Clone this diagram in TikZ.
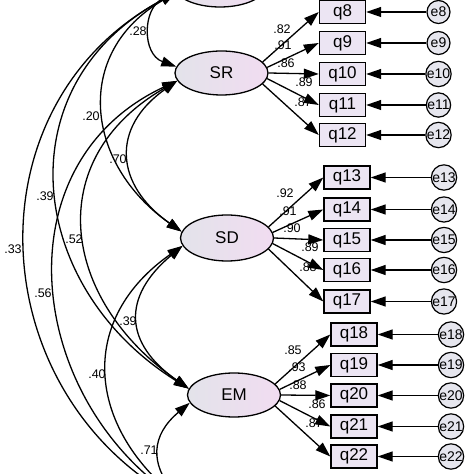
\documentclass[tikz,border=0pt]{standalone}
\usepackage{fontspec}
\setmainfont{Liberation Sans}
\usepackage{xcolor}
\usetikzlibrary{arrows.meta,shapes.geometric}
\definecolor{latgray}{HTML}{E3E3EA}
\definecolor{latpink}{HTML}{F1DCF1}
\definecolor{obsfill}{HTML}{ECE5F3}
\definecolor{errfill}{HTML}{E6E6EE}
\tikzset{
  lat/.style={draw, ellipse, line width=1.3pt, left color=latgray, right color=latpink,
    minimum width=93pt, minimum height=44pt, inner sep=0pt, font=\fontsize{17}{17}\selectfont},
  obs/.style={draw, rectangle, line width=1.4pt, fill=obsfill, minimum width=46pt,
    minimum height=23pt, inner sep=0pt, font=\fontsize{17}{17}\selectfont},
  err/.style={draw, circle, line width=1.2pt, fill=errfill, minimum size=23pt, inner sep=0pt,
    font=\fontsize{14}{14}\selectfont},
  wt/.style={inner sep=0pt, font=\fontsize{12.5}{13}\selectfont},
  load/.style={-{Triangle[length=15pt,width=10pt]}, line width=1.3pt},
  cov/.style={{Triangle[length=15pt,width=10pt]}-{Triangle[length=15pt,width=10pt]}, line width=1.3pt},
}

\begin{document}
\begin{tikzpicture}[x=1pt, y=1pt]
  \useasboundingbox (0,0) rectangle (474,474);
  \clip (0,0) rectangle (474,474);
  % factors
  \node[lat] (ftop) at (220,489) {};
  \node[lat] (sr) at (221.5,401) {SR};
  \node[lat, minimum height=46pt] (sd) at (227,236) {SD};
  \node[lat] (em) at (234,79) {EM};
  \node[lat] (fbot) at (226,-38) {};
  % items
  \node[obs] (q8) at (342.5,462) {q8};
  \node[obs] (q9) at (342.5,431) {q9};
  \node[obs] (q10) at (342.5,400) {q10};
  \node[obs] (q11) at (342.5,369) {q11};
  \node[obs] (q12) at (342.5,339) {q12};
  \node[obs] (q13) at (347,296.5) {q13};
  \node[obs] (q14) at (347,264.5) {q14};
  \node[obs] (q15) at (347,234) {q15};
  \node[obs] (q16) at (347,204) {q16};
  \node[obs] (q17) at (347,172.5) {q17};
  \node[obs] (q18) at (354,139.5) {q18};
  \node[obs] (q19) at (354,109) {q19};
  \node[obs] (q20) at (354,78.5) {q20};
  \node[obs] (q21) at (354,47.5) {q21};
  \node[obs] (q22) at (354,17.5) {q22};
  % errors
  \node[err] (e8) at (438.5,462) {e8};
  \node[err] (e9) at (438.5,431) {e9};
  \node[err] (e10) at (438.5,400) {e10};
  \node[err] (e11) at (438.5,369) {e11};
  \node[err] (e12) at (438.5,339) {e12};
  \node[err] (e13) at (444,296.5) {e13};
  \node[err] (e14) at (444,264.5) {e14};
  \node[err] (e15) at (444,234) {e15};
  \node[err] (e16) at (444,204) {e16};
  \node[err] (e17) at (444,172.5) {e17};
  \node[err] (e18) at (451,139.5) {e18};
  \node[err] (e19) at (451,109) {e19};
  \node[err] (e20) at (451,78.5) {e20};
  \node[err] (e21) at (451,47.5) {e21};
  \node[err] (e22) at (451,17.5) {e22};
  % loadings
  \node[wt] (w8) at (282,445) {.82};
  \node[wt] (w9) at (283,429) {.91};
  \node[wt] (w10) at (286,411) {.86};
  \node[wt] (w11) at (304,392) {.89};
  \node[wt] (w12) at (303,372) {.87};
  \node[wt] (w13) at (285,281) {.92};
  \node[wt] (w14) at (288,263) {.91};
  \node[wt] (w15) at (292,246) {.90};
  \node[wt] (w16) at (310,227) {.89};
  \node[wt] (w17) at (308,207) {.88};
  \node[wt] (w18) at (293,124) {.85};
  \node[wt] (w19) at (297,107) {.93};
  \node[wt] (w20) at (298,89) {.88};
  \node[wt] (w21) at (317,70) {.86};
  \node[wt] (w22) at (314,51) {.87};
  \draw[load] (sr.15) -- (q8.west);
  \draw[load] (sr.7) -- (q9.west);
  \draw[load] (sr.0) -- (q10.west);
  \draw[load] (sr.-7) -- (q11.west);
  \draw[load] (sr.-15) -- (q12.west);
  \draw[load] (sd.15) -- (q13.west);
  \draw[load] (sd.7) -- (q14.west);
  \draw[load] (sd.0) -- (q15.west);
  \draw[load] (sd.-7) -- (q16.west);
  \draw[load] (sd.-15) -- (q17.west);
  \draw[load] (em.15) -- (q18.west);
  \draw[load] (em.7) -- (q19.west);
  \draw[load] (em.0) -- (q20.west);
  \draw[load] (em.-7) -- (q21.west);
  \draw[load] (em.-15) -- (q22.west);
  \draw[load] (e8) -- (q8);
  \draw[load] (e9) -- (q9);
  \draw[load] (e10) -- (q10);
  \draw[load] (e11) -- (q11);
  \draw[load] (e12) -- (q12);
  \draw[load] (e13) -- (q13);
  \draw[load] (e14) -- (q14);
  \draw[load] (e15) -- (q15);
  \draw[load] (e16) -- (q16);
  \draw[load] (e17) -- (q17);
  \draw[load] (e18) -- (q18);
  \draw[load] (e19) -- (q19);
  \draw[load] (e20) -- (q20);
  \draw[load] (e21) -- (q21);
  \draw[load] (e22) -- (q22);
  % covariances
  \node[wt] (ctopsr) at (138,443) {.28};
  \node[wt] (ctopsd) at (91,358) {.20};
  \node[wt] (csrsd) at (118,315) {.70};
  \node[wt] (ctopem) at (45,278) {.39};
  \node[wt] (csrem) at (74,235) {.52};
  \node[wt] (ctopbot) at (13,225) {.33};
  \node[wt] (csrbot) at (43,181) {.56};
  \node[wt] (csdem) at (128,153) {.39};
  \node[wt] (csdbot) at (97,100) {.40};
  \node[wt] (cembot) at (149,24) {.71};
  \draw[cov] (ftop.190) to[out=205, in=160, looseness=1.27] (sr.172);
  \draw[cov] (ftop.190) to[out=210, in=145, looseness=1.27] (sd.172);
  \draw[cov] (ftop.190) to[out=208, in=148, looseness=1.25] (em.172);
  \draw[cov] (ftop.190) to[out=208, in=150, looseness=1.17] (fbot.168);
  \draw[cov] (sr.190) to[out=215, in=145, looseness=1.38] (sd.172);
  \draw[cov] (sr.190) to[out=210, in=145, looseness=1.30] (em.172);
  \draw[cov] (sr.190) to[out=205, in=145, looseness=1.17] (fbot.168);
  \draw[cov] (sd.190) to[out=220, in=145, looseness=1.42] (em.172);
  \draw[cov] (sd.190) to[out=215, in=140, looseness=1.26] (fbot.168);
  \draw[cov] (em.190) to[out=220, in=130, looseness=1.30] (fbot.168);
\end{tikzpicture}
\end{document}
